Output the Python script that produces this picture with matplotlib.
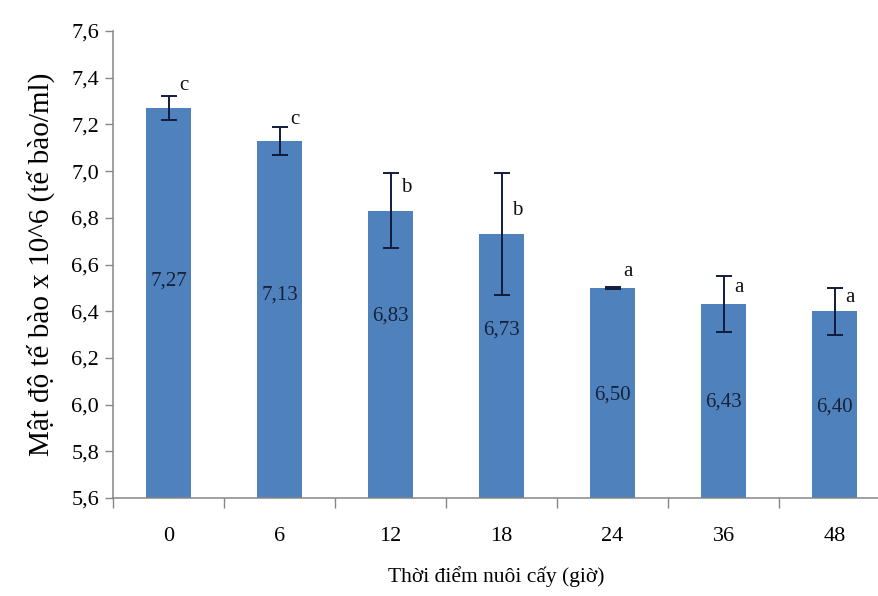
import matplotlib
matplotlib.use("Agg")
import matplotlib.pyplot as plt
from matplotlib.ticker import FuncFormatter, FixedLocator

# Cell density over culture time
times = ["0", "6", "12", "18", "24", "36", "48"]
density = [7.27, 7.13, 6.83, 6.73, 6.50, 6.43, 6.40]
errors = [0.05, 0.06, 0.16, 0.26, 0.005, 0.12, 0.10]
groups = ["c", "c", "b", "b", "a", "a", "a"]

# heights (in axis units) where the value and group labels sit
value_label_y = [6.53, 6.47, 6.38, 6.32, 6.04, 6.01, 5.99]
group_label_y = [7.368, 7.222, 6.93, 6.83, 6.57, 6.50, 6.46]

plt.rcParams["font.family"] = ["Liberation Serif", "DejaVu Serif"]

fig = plt.figure(figsize=(8.79, 5.96), dpi=100)
ax = fig.add_axes([113 / 879, 98 / 596, (879 - 113) / 879, 467 / 596])

bar_color = "#4F81BD"
err_color = "#101C3C"
x = list(range(len(times)))

ax.bar(x, density, width=0.41, color=bar_color, zorder=2)
ax.errorbar(x, density, yerr=errors, fmt="none", ecolor=err_color,
            elinewidth=1.4, capsize=5.5, capthick=1.4, zorder=3)

for i, v in enumerate(density):
    ax.text(i, value_label_y[i], f"{v:.2f}".replace(".", ","),
            ha="center", va="center", fontsize=15, color="#16223A", zorder=4)
    ax.text(i + 0.14, group_label_y[i], groups[i],
            ha="center", va="center", fontsize=15, color="#111111", zorder=4)

ax.set_xlim(-0.5, 6.4)
ax.set_ylim(5.6, 7.6)
ax.set_yticks([5.6 + 0.2 * k for k in range(11)])
ax.yaxis.set_major_formatter(FuncFormatter(lambda v, p: f"{v:.1f}".replace(".", ",")))

ax.set_xticks(x)
ax.set_xticklabels(times)
ax.xaxis.set_minor_locator(FixedLocator([i - 0.5 for i in range(len(times) + 1)]))
ax.tick_params(axis="x", which="major", length=0, pad=21, labelsize=16)
ax.tick_params(axis="x", which="minor", length=7, width=1, color="#868686", direction="out")
ax.tick_params(axis="y", which="major", length=6, width=1, color="#868686",
               direction="out", labelsize=16, pad=4)

for side in ("top", "right"):
    ax.spines[side].set_visible(False)
for side in ("left", "bottom"):
    ax.spines[side].set_color("#868686")
    ax.spines[side].set_linewidth(1.1)

ax.set_ylabel("Mật độ tế bào x 10^6 (tế bào/ml)", fontsize=21, labelpad=12)
ax.set_xlabel("Thời điểm nuôi cấy (giờ)", fontsize=15.5, labelpad=14)

fig.savefig("out.png", dpi=100)
